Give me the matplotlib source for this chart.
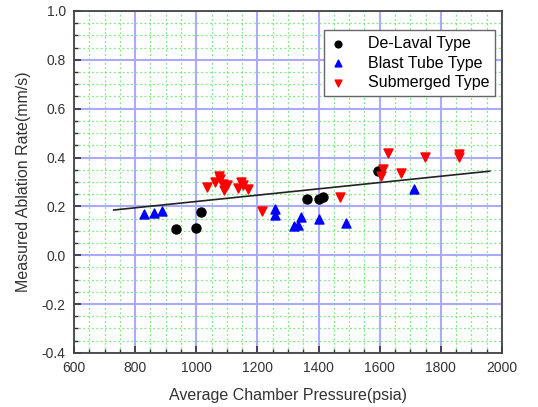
import matplotlib as mpl
mpl.use('Agg')
import matplotlib.pyplot as plt
from matplotlib.ticker import MultipleLocator

plt.rcParams['font.family'] = ['Liberation Sans', 'DejaVu Sans']

# De-Laval type
delaval_p = [935, 1000, 1016, 1361, 1402, 1415, 1595]
delaval_r = [0.106, 0.110, 0.177, 0.229, 0.229, 0.237, 0.344]

# Blast tube type
blast_p = [830, 863, 888, 1259, 1259, 1320, 1332, 1342, 1401, 1491, 1711]
blast_r = [0.170, 0.174, 0.182, 0.190, 0.165, 0.121, 0.125, 0.156, 0.150, 0.130, 0.273]

# Submerged type
sub_p = [1035, 1062, 1073, 1078, 1087, 1092, 1100, 1138, 1146, 1154, 1168,
         1216, 1470, 1603, 1611, 1627, 1671, 1747, 1859, 1859]
sub_r = [0.279, 0.300, 0.324, 0.310, 0.290, 0.267, 0.286, 0.276, 0.298, 0.286, 0.270,
         0.180, 0.237, 0.324, 0.354, 0.420, 0.337, 0.403, 0.416, 0.403]

# linear fit line
fit_p = [730, 1960]
fit_r = [0.185, 0.344]

fig = plt.figure(figsize=(5.38, 4.07), dpi=100)
ax = fig.add_axes([0.1375, 0.133, 0.7955, 0.84])

ax.plot(fit_p, fit_r, color='#222222', lw=1.2, zorder=3)
ax.scatter(delaval_p, delaval_r, marker='o', color='black', s=42, label='De-Laval Type', zorder=4)
ax.scatter(blast_p, blast_r, marker='^', color='blue', s=42, label='Blast Tube Type', zorder=4)
ax.scatter(sub_p, sub_r, marker='v', color='red', s=42, label='Submerged Type', zorder=4)

ax.set_xlim(600, 2000)
ax.set_ylim(-0.4, 1.0)
ax.xaxis.set_major_locator(MultipleLocator(200))
ax.xaxis.set_minor_locator(MultipleLocator(50))
ax.yaxis.set_major_locator(MultipleLocator(0.2))
ax.yaxis.set_minor_locator(MultipleLocator(0.05))
ax.yaxis.set_major_formatter(mpl.ticker.FormatStrFormatter('%.1f'))

ax.grid(which='minor', color='#7fe87f', ls=(0, (1.5, 2)), lw=0.9, zorder=0)
ax.grid(which='major', color='#aaaaff', ls='-', lw=1.5, zorder=1)
ax.set_axisbelow(True)

ax.tick_params(which='both', direction='in', top=False, right=False, labelsize=10,
               colors='#333333', pad=6)
ax.tick_params(which='major', length=5, width=1.2)
ax.tick_params(which='minor', length=3, width=1.0)
for s in ax.spines.values():
    s.set_color('#444444')
    s.set_linewidth(1.3)

ax.set_xlabel('Average Chamber Pressure(psia)', fontsize=11.5, color='#333333', labelpad=9)
ax.set_ylabel('Measured Ablation Rate(mm/s)', fontsize=11.5, color='#333333', labelpad=8)

leg = ax.legend(loc='upper right', bbox_to_anchor=(0.984, 0.944), borderaxespad=0,
                fontsize=11.5, frameon=True, fancybox=False, edgecolor='#666666',
                framealpha=1, handlelength=1.0, handletextpad=1.4, borderpad=0.35,
                labelspacing=0.3, markerscale=0.75)
leg.get_frame().set_linewidth(1.0)

fig.savefig('out.png', dpi=100)
